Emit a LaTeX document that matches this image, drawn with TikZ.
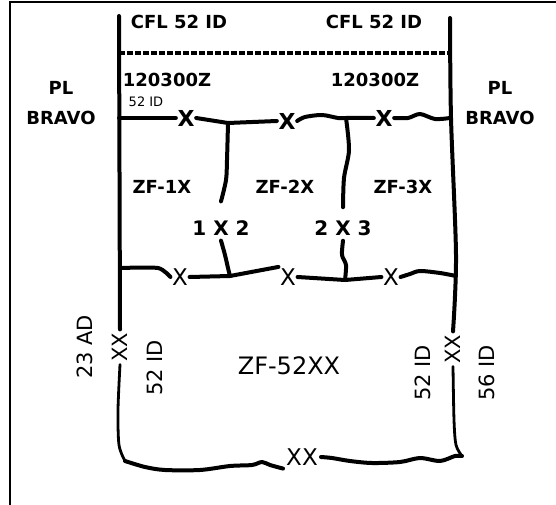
\documentclass[tikz,border=0pt]{standalone}
\usepackage{fontspec}
\setmainfont{DejaVu Sans}
\usetikzlibrary{calc}

\begin{document}
\begin{tikzpicture}[
  x=1pt,y=-1pt,
  head/.style={font=\bfseries\fontsize{18}{30}\selectfont,inner sep=1pt,align=center},
  small/.style={font=\fontsize{13}{13}\selectfont,inner sep=1pt},
  zone/.style={font=\bfseries\fontsize{18}{18}\selectfont,inner sep=1pt},
  link/.style={font=\bfseries\fontsize{20}{20}\selectfont,inner sep=1pt},
  topx/.style={font=\bfseries\fontsize{22}{22}\selectfont,inner sep=1.5pt},
  lowx/.style={font=\fontsize{23}{23}\selectfont,inner sep=1.5pt},
  side/.style={font=\fontsize{21}{21}\selectfont,rotate=90,inner sep=3pt},
  wire/.style={line width=4pt,line cap=round,line join=round},
  thinwire/.style={line width=2.8pt,line cap=round,line join=round},
  phase/.style={line width=3.4pt,dash pattern=on 5.5pt off 2.5pt}
]
  \useasboundingbox (0,0) rectangle (556,505);
  \draw[line width=2.6pt] (556,2) -- (10,2) -- (10,505);

  % ends of the two boundary lines
  \coordinate (lTop) at (119,16);
  \coordinate (lBot) at (125,461);
  \coordinate (rTop) at (450,18);
  \coordinate (rMid) at (456,276);
  \coordinate (rBot) at (462,456);
  \coordinate (lHook) at (120,268);
  \coordinate (tj1) at (228,123);
  \coordinate (tj2) at (346,118);
  \coordinate (bj1) at (230,276);
  \coordinate (bj2) at (345,280);

  % labels
  \node[head] (cflL) at (179,22) {CFL 52 ID};
  \node[head] (cflR) at (374,22) {CFL 52 ID};
  \node[head] (dtgL) at (167,80) {120300Z};
  \node[head] (dtgR) at (375,80) {120300Z};
  \node[head] (plL) at (61,103) {PL\\BRAVO};
  \node[head] (plR) at (500,103) {PL\\BRAVO};
  \node[small] (idTop) at (146,102) {52 ID};
  \node[zone] (zf1) at (162,187) {ZF-1X};
  \node[zone] (zf2) at (285,187) {ZF-2X};
  \node[zone] (zf3) at (403,187) {ZF-3X};
  \node[link] (c12) at (221,228) {1 X 2};
  \node[link] (c23) at (343,228) {2 X 3};
  \node[font=\fontsize{24}{24}\selectfont] (zf52) at (289,366) {ZF-52XX};

  % crossing points
  \node[topx] (xa) at (186,118) {X};
  \node[topx] (xb) at (287,121) {X};
  \node[topx] (xc) at (384,118) {X};
  \node[lowx] (xd) at (180,277) {X};
  \node[lowx] (xe) at (288,277) {X};
  \node[lowx] (xf) at (391,277) {X};
  \node[lowx,inner sep=3pt] (bxx) at (302,457) {XX};

  % side labels
  \node[side] (adL) at (85,347) {23 AD};
  \node[side] (xxL) at (120,347) {XX};
  \node[side] (idL) at (155,368) {52 ID};
  \node[side] (idR) at (423,373) {52 ID};
  \node[side] (xxR) at (453,349) {XX};
  \node[side] (idR2) at (487,373) {56 ID};

  % boundaries
  \draw[wire] (lTop) -- (xxL.east);
  \draw[thinwire] plot[smooth] coordinates {(xxL.west) (118,410) (119,445) (lBot)};
  \draw[wire] plot[smooth] coordinates {(rTop) (451,118) (456,255) (xxR.east)};
  \draw[thinwire] plot[smooth] coordinates {(xxR.west) (454,420) (456,445) (rBot)};
  \draw[phase] (lTop |- 0,53) -- (rTop |- 0,53);
  \draw[wire] plot[smooth,tension=0.5] coordinates {(lBot) (145,467) (165,470) (200,470) (230,466) (252,465) (262,462) (270,465) (bxx.south west)};
  \draw[wire] plot[smooth,tension=0.5] coordinates {(bxx.east) (332,458) (350,461) (372,463) (400,462) (420,458) (440,461) (455,456) (rBot)};

  % upper crossings
  \draw[wire] (lTop |- xa.west) -- (xa.west);
  \draw[wire] (xa.east) -- (tj1) -- (xb.west);
  \draw[wire] plot[smooth] coordinates {(xb.east) (305,117) (322,115) (338,118) (tj2)} -- (xc.west);
  \draw[wire] plot[smooth] coordinates {(xc.east) (408,118) (420,114) (435,119) (rTop |- xc)};
  \draw[wire] plot[smooth] coordinates {(tj1) (227,160) (226,180) ($(c12.north)+(0,-18)$)};
  \draw[wire] plot[smooth] coordinates {(tj2) (349,150) (344,178) ($(c23.north)+(0,-12)$)};

  % lower crossings
  \draw[wire] plot[smooth,tension=0.4] coordinates {(lHook) (158,268) (xd.west)};
  \draw[wire] (xd.east) -- (bj1) -- (xe.north west);
  \draw[wire] (xe.east) -- (bj2) -- (xf.west);
  \draw[wire] plot[smooth] coordinates {(xf.east) (410,274) (420,271) (440,273) (rMid)};
  \draw[wire] plot[smooth] coordinates {($(c12.south)+(0,4)$) (225,255) (228,268) (bj1)};
  \draw[wire] plot[smooth] coordinates {($(c23.south)+(0,4)$) (342,255) (346,265) (bj2)};
\end{tikzpicture}
\end{document}
